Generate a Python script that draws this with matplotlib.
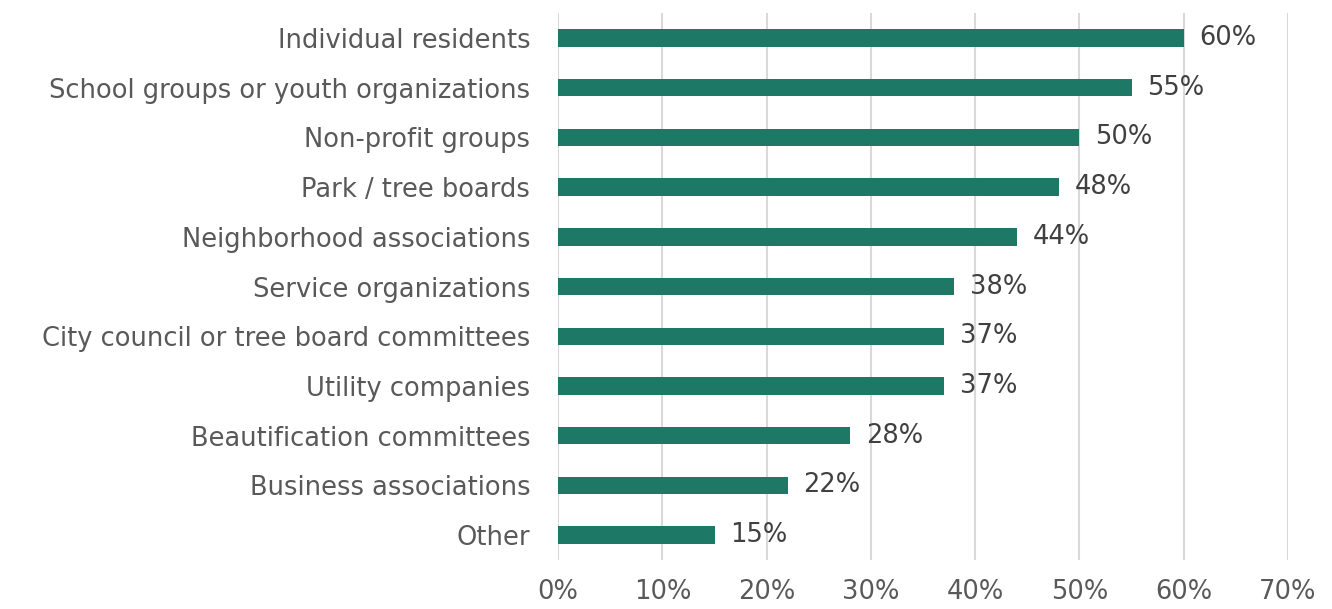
import matplotlib.pyplot as plt
import numpy as np

categories = ["Individual residents", "School groups or youth organizations",
              "Non-profit groups", "Park / tree boards", "Neighborhood associations",
              "Service organizations", "City council or tree board committees",
              "Utility companies", "Beautification committees",
              "Business associations", "Other"]
values = [60, 55, 50, 48, 44, 38, 37, 37, 28, 22, 15]
xticks = [0, 10, 20, 30, 40, 50, 60, 70]

plt.rcParams['font.family'] = ['DejaVu Sans']
txt = '#595959'

fig = plt.figure(figsize=(13.32, 6.09), dpi=100)
ax = fig.add_axes([0.419, 0.0805, 0.548, 0.898])

y = np.arange(len(categories))
ax.barh(y, values, height=0.35, color='#1d7865', zorder=3)
for yi, v in zip(y, values):
    ax.text(v + 1.5, yi, f"{v}%", va='center', ha='left', fontsize=18.5, color='#404040')

ax.set_ylim(len(categories) - 0.5, -0.5)
ax.set_xlim(0, 70)
ax.set_yticks(y)
ax.set_yticklabels(categories, fontsize=18.5, color=txt)
ax.set_xticks(xticks)
ax.set_xticklabels([f"{t}%" for t in xticks], fontsize=18.5, color=txt)
ax.tick_params(axis='both', length=0)
ax.tick_params(axis='y', pad=20)
ax.tick_params(axis='x', pad=14)
ax.grid(axis='x', color='#d9d9d9', linewidth=1.5, zorder=0)
for s in ax.spines.values():
    s.set_visible(False)

fig.savefig('out.png', dpi=100)
